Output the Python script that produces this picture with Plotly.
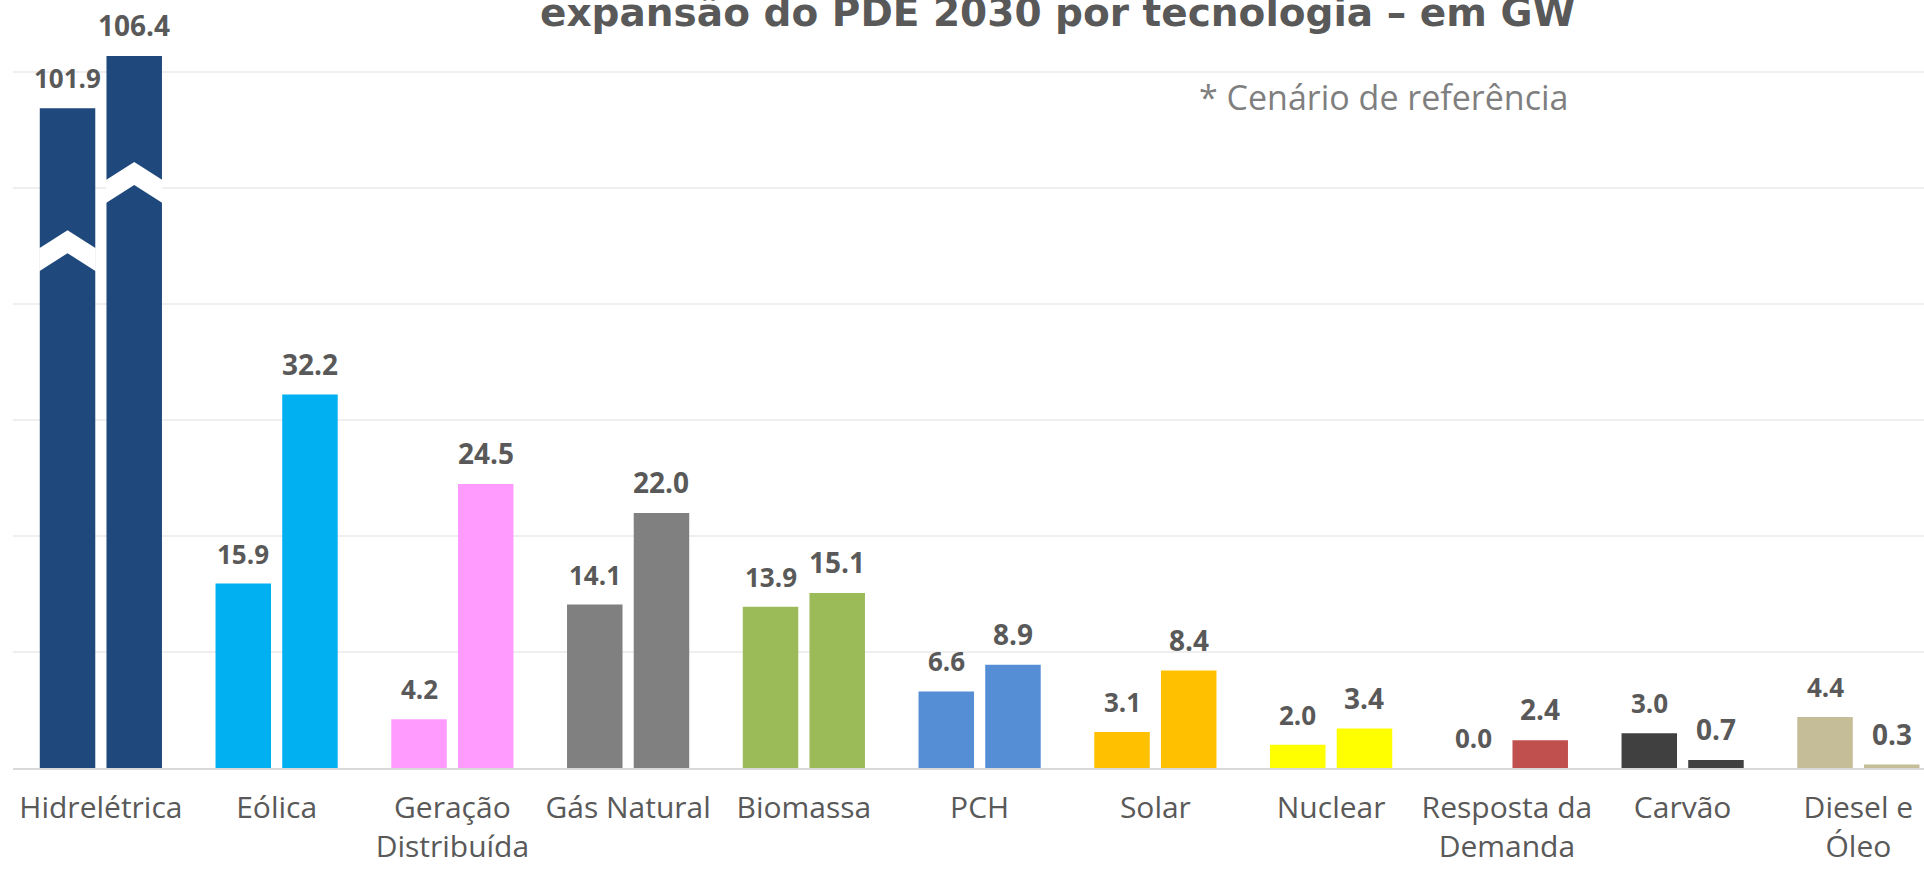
import plotly.graph_objects as go

categories = ["Hidrelétrica", "Eólica", "Geração<br>Distribuída", "Gás Natural", "Biomassa",
              "PCH", "Solar", "Nuclear", "Resposta da<br>Demanda", "Carvão", "Diesel e<br>Óleo"]
values_2020 = [101.9, 15.9, 4.2, 14.1, 13.9, 6.6, 3.1, 2.0, 0.0, 3.0, 4.4]
values_2030 = [106.4, 32.2, 24.5, 22.0, 15.1, 8.9, 8.4, 3.4, 2.4, 0.7, 0.3]
colors = ["#1F497D", "#00B0F0", "#FF9BFF", "#808080", "#9BBB59", "#558ED5",
          "#FFC000", "#FFFF00", "#C0504D", "#404040", "#C4BD97"]

# broken axis: hydro bars shortened by this amount (GW)
BREAK_GW = 45.0
broken = [0]

W, H = 1924, 869
ML, MR, MT, MB = 13, 0, 0, 101
PX_PER_GW = 11.596
CAT_W = 175.75
BARGAP = 0.241
SLOT = (1 - BARGAP) * CAT_W / 2
BAR_W = SLOT * (1 - 0.168)

n = len(categories)
xs = list(range(n))


def disp(vals):
    return [v - BREAK_GW if i in broken else v for i, v in enumerate(vals)]


d2020 = disp(values_2020)
d2030 = disp(values_2030)

fig = go.Figure()
fig.add_trace(go.Bar(x=xs, y=d2020, marker=dict(color=colors, line=dict(width=0)),
                     name="2020", hoverinfo="skip"))
fig.add_trace(go.Bar(x=xs, y=d2030, marker=dict(color=colors, line=dict(width=0)),
                     name="2030", hoverinfo="skip"))

LBL = "#595959"
annotations = []
for i in xs:
    for vals, dv, sh, sz in ((values_2020, d2020, -SLOT / 2, 26), (values_2030, d2030, SLOT / 2, 28)):
        annotations.append(dict(x=i, y=dv[i], xref="x", yref="y", text=f"{vals[i]:.1f}",
                                showarrow=False, xshift=sh, yanchor="bottom", yshift=10,
                                font=dict(family="Open Sans", size=sz, color=LBL, weight="bold")))

plot_h = H - MT - MB
plot_w = W - ML - MR
annotations.append(dict(x=(1058 - ML) / plot_w, y=1 - 37 / plot_h, xref="paper", yref="paper",
                        text="<b>expansão do PDE 2030 por tecnologia – em GW</b>",
                        showarrow=False, xanchor="center", yanchor="bottom",
                        font=dict(family="DejaVu Sans", size=39, color="#595959")))
annotations.append(dict(x=(1570 - ML) / plot_w, y=1 - 97 / plot_h, xref="paper", yref="paper",
                        text="* Cenário de referência", showarrow=False,
                        xanchor="right", yanchor="middle",
                        font=dict(family="Open Sans", size=34, color="#7F7F7F")))

# break chevrons (white bands) on hydro bars
shapes = []
apex_px = [122, 106]
h_px, t_px = 18, 23
w = BAR_W / 2 + 0.5
for i in broken:
    for k, (dv, sh) in enumerate(((d2020, -SLOT / 2), (d2030, SLOT / 2))):
        a = apex_px[k]
        path = (f"M {sh - w},{-(a + h_px)} L {sh},{-a} L {sh + w},{-(a + h_px)} "
                f"L {sh + w},{-(a + h_px + t_px)} L {sh},{-(a + t_px)} L {sh - w},{-(a + h_px + t_px)} Z")
        shapes.append(dict(type="path", xref="x", yref="y", xsizemode="pixel", ysizemode="pixel",
                           xanchor=i, yanchor=dv[i], path=path,
                           fillcolor="white", line=dict(width=0), layer="above"))

fig.update_layout(
    width=W, height=H, autosize=False,
    margin=dict(l=ML, r=MR, t=MT, b=MB, pad=0, autoexpand=False),
    paper_bgcolor="white", plot_bgcolor="white",
    barmode="group", bargap=BARGAP, bargroupgap=0.168,
    showlegend=False,
    annotations=annotations, shapes=shapes,
    xaxis=dict(range=[-0.5, -0.5 + plot_w / CAT_W], tickmode="array", tickvals=xs,
               ticktext=categories, showgrid=False, showline=True, linecolor="#D9D9D9",
               linewidth=2, ticks="", zeroline=False, ticklabelstandoff=12, automargin=False,
               tickfont=dict(family="Open Sans", size=30, color=LBL)),
    yaxis=dict(range=[0, plot_h / PX_PER_GW], dtick=10, tick0=0, showticklabels=False,
               automargin=False,
               showgrid=True, gridcolor="#EFEFEF", gridwidth=1.5, zeroline=False, showline=False),
)

fig.write_html("out.html")
